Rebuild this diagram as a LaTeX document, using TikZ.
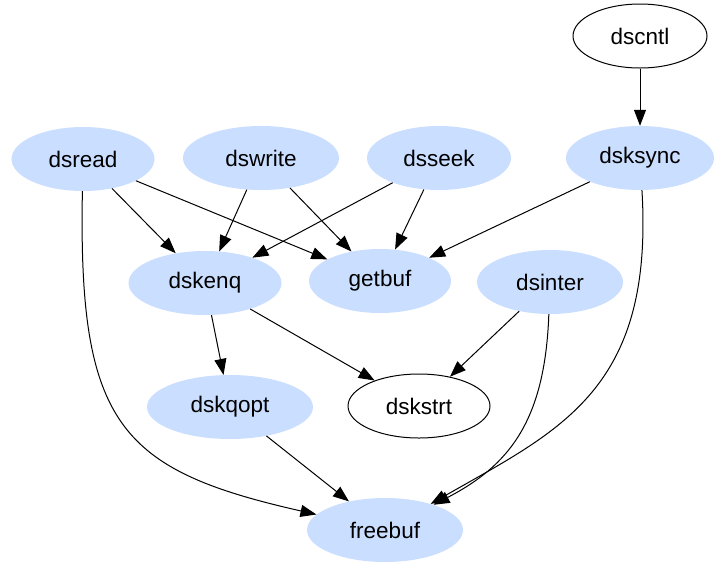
\documentclass[tikz,border=0pt]{standalone}
\usepackage{fontspec}
\setmainfont{Liberation Sans}
\usetikzlibrary{arrows.meta,shapes.geometric}
\definecolor{fnblue}{RGB}{202,222,255}

\begin{document}
\begin{tikzpicture}[x=1pt,y=-1pt,>={Triangle[length=16pt,width=12pt]},
  every node/.style={ellipse,inner sep=0pt,minimum height=64pt,font=\fontsize{22.5}{26}\selectfont},
  fn/.style={fill=fnblue,minimum width=#1},fn/.default=144pt,
  outfn/.style={draw,line width=1pt,minimum width=#1},outfn/.default=142pt,
  every edge/.style={draw,line width=1pt}]

  \useasboundingbox (0,0) rectangle (714,563);

  \node[outfn=134pt]	(dscntl)	at (640,36)	{dscntl};
  \node[fn=143pt]	(dsread)	at (83,159)	{dsread};
  \node[fn=156pt]	(dswrite)	at (261,158)	{dswrite};
  \node[fn]		(dsseek)	at (439,158)	{dsseek};
  \node[fn=148pt]	(dsksync)	at (640,158)	{dsksync};
  \node[fn=153pt]	(dskenq)	at (205,283)	{dskenq};
  \node[fn=142pt]	(getbuf)	at (380,281)	{getbuf};
  \node[fn=146pt]	(dsinter)	at (550,282)	{dsinter};
  \node[fn=166pt]	(dskqopt)	at (230,407)	{dskqopt};
  \node[outfn]		(dskstrt)	at (419,406)	{dskstrt};
  \node[fn=156pt]	(freebuf)	at (385,530)	{freebuf};

\path[->]
     (dscntl)	edge	(dsksync)
     (dsread)	edge	(dskenq)
     (dsread)	edge	(getbuf)
     (dswrite)	edge	(dskenq)
     (dswrite)	edge	(getbuf)
     (dsseek)	edge	(dskenq)
     (dsseek)	edge	(getbuf)
     (dsksync)	edge	(getbuf)
     (dskenq)	edge	(dskqopt)
     (dskenq)	edge	(dskstrt)
     (dsinter)	edge	(dskstrt)
     (dskqopt)	edge	(freebuf)
  ;

  % long calls down to freebuf
  \draw[->,line width=1pt] (dsread) .. controls (78,425) and (120,470) .. (freebuf);
  \draw[->,line width=1pt] (dsksync) .. controls (654,390) and (560,430) .. (freebuf);
  \draw[->,line width=1pt] (dsinter) .. controls (545,420) and (510,465) .. (freebuf);
\end{tikzpicture}
\end{document}
